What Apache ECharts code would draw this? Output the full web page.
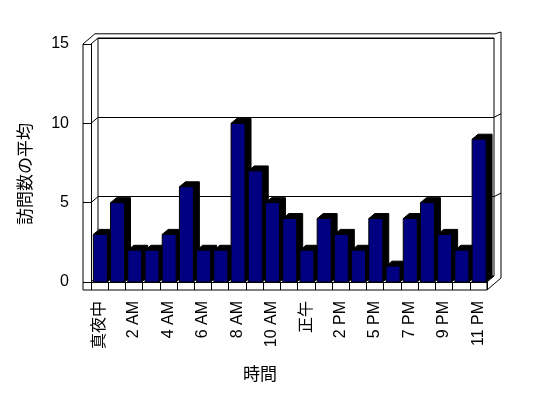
<!DOCTYPE html>
<html>
<head>
<meta charset="utf-8">
<script src="https://cdn.jsdelivr.net/npm/echarts@6/dist/echarts.min.js"></script>
<style>
  html, body { margin: 0; padding: 0; background: #fff; }
  #chart { width: 548px; height: 398px; }
</style>
</head>
<body>
<div id="chart"></div>
<script>
const hours = [
  "真夜中", "1 AM", "2 AM", "3 AM", "4 AM", "5 AM", "6 AM", "7 AM", "8 AM", "9 AM", "10 AM", "11 AM",
  "正午", "1 PM", "2 PM", "4 PM", "5 PM", "6 PM", "7 PM", "8 PM", "9 PM", "10 PM", "11 PM"
];
const visits = [3, 5, 2, 2, 3, 6, 2, 2, 10, 7, 5, 4, 2, 4, 3, 2, 4, 1, 4, 5, 3, 2, 9];
const yMin = 0;
const yMax = 15;
const yStep = 5;
const yTitle = "訪問数の平均";
const xTitle = "時間";

const FONT = "'Liberation Sans', 'Noto Sans CJK JP', sans-serif";
const DX = 7, DY = -6;      // depth of the box
const BX = 6, BY = -5;      // depth of a bar
const WALL = 8;

const myChart = echarts.init(document.getElementById("chart"));

function line(a, b) {
  return {
    type: "line",
    shape: { x1: a[0], y1: a[1], x2: b[0], y2: b[1] },
    style: { stroke: "#000", lineWidth: 1 }
  };
}

// box outline, placed from the front grid's own coordinates
function renderFrame(params, api) {
  const band = api.size([1, 0])[0];
  const xL = api.coord([0, yMin])[0] - band / 2;
  const xR = api.coord([hours.length - 1, yMin])[0] + band / 2;
  const y0 = api.coord([0, yMin])[1];
  const yT = api.coord([0, yMax])[1];
  const kids = [];
  // left wall
  kids.push(line([xL - WALL, yT], [xL - WALL, y0 + WALL]));
  kids.push(line([xL - WALL, yT], [xL - WALL + 1.7 * DX, yT + 1.7 * DY]));
  kids.push(line([xL - WALL + 1.7 * DX, yT + 1.7 * DY], [xR + DX + 1, yT + 1.7 * DY]));
  kids.push(line([xR + DX + 1, yT + 1.7 * DY], [xR + 2 * DX, yT + 2 * DY]));
  for (let v = yMin; v <= yMax; v += yStep) {
    const y = api.coord([0, v])[1];
    kids.push(line([xL, y], [xL + DX, y + DY]));
    if (v > yMin && v < yMax) {
      kids.push(line([xR + DX, y + DY], [xR + 2 * DX, y + 1.6 * DY]));
    }
  }
  // right wall
  kids.push(line([xR + 2 * DX, yT + 2 * DY], [xR + 2 * DX, y0 + WALL + 2 * DY]));
  // floor
  kids.push(line([xL - WALL, y0 + WALL], [xR, y0 + WALL]));
  kids.push(line([xR, y0], [xR, y0 + WALL]));
  kids.push(line([xR, y0], [xR + DX, y0 + DY]));
  kids.push(line([xR, y0 + WALL], [xR + 2 * DX, y0 + WALL + 2 * DY]));
  return { type: "group", children: kids };
}

function renderBar(params, api) {
  const i = api.value(0);
  const v = api.value(1);
  const top = api.coord([i, v]);
  const base = api.coord([i, 0]);
  const w = api.size([1, 0])[0] * 0.81;
  const x0 = top[0] - w / 2 + 0.7;
  const x1 = x0 + w;
  const yt = top[1];
  const yb = base[1];
  return {
    type: "group",
    children: [
      {
        type: "polygon",
        shape: {
          points: [
            [x0, yt], [x0 + BX, yt + BY], [x1 + BX, yt + BY],
            [x1 + BX, yb + BY], [x1, yb], [x1, yt]
          ]
        },
        style: { fill: "#000", stroke: "#000", lineWidth: 1 }
      },
      {
        type: "rect",
        shape: { x: x0, y: yt, width: w, height: yb - yt },
        style: { fill: "#000080", stroke: "#000", lineWidth: 1 }
      }
    ]
  };
}

const option = {
  backgroundColor: "#fff",
  animation: false,
  textStyle: { fontFamily: FONT, color: "#000" },
  grid: [
    // front plane
    { left: 91, right: 61, top: 44, bottom: 116 },
    // back wall
    {
      left: 98, right: 54, top: 38, bottom: 122,
      show: true, backgroundColor: "#fff", borderColor: "#000", borderWidth: 1
    }
  ],
  xAxis: [
    {
      gridIndex: 0,
      type: "category",
      data: hours,
      boundaryGap: true,
      axisLine: { show: true, lineStyle: { color: "#000", width: 1 } },
      axisTick: { show: true, interval: 0, length: 8, lineStyle: { color: "#000" } },
      axisLabel: {
        interval: 1,
        rotate: 90,
        margin: 19,
        fontSize: 16,
        fontFamily: FONT,
        color: "#000"
      },
      splitLine: { show: false }
    },
    {
      gridIndex: 1,
      type: "category",
      data: hours,
      show: false
    }
  ],
  yAxis: [
    {
      gridIndex: 0,
      type: "value",
      min: yMin,
      max: yMax,
      interval: yStep,
      axisLine: { show: true, lineStyle: { color: "#000", width: 1 } },
      axisTick: { show: true, length: 8, lineStyle: { color: "#000" } },
      axisLabel: { margin: 22, fontSize: 16, fontFamily: FONT, color: "#000" },
      splitLine: { show: false }
    },
    {
      gridIndex: 1,
      type: "value",
      min: yMin,
      max: yMax,
      interval: yStep,
      axisLine: { show: false },
      axisTick: { show: false },
      axisLabel: { show: false },
      splitLine: { show: true, lineStyle: { color: "#000", width: 1 } }
    }
  ],
  graphic: [
    {
      type: "text",
      x: 26,
      y: 174,
      rotation: Math.PI / 2,
      style: {
        text: yTitle,
        font: "17px " + FONT,
        fill: "#000",
        align: "center",
        verticalAlign: "middle"
      }
    },
    {
      type: "text",
      x: 260,
      y: 375,
      style: {
        text: xTitle,
        font: "17px " + FONT,
        fill: "#000",
        align: "center",
        verticalAlign: "middle"
      }
    }
  ],
  series: [
    {
      name: "frame",
      type: "custom",
      xAxisIndex: 0,
      yAxisIndex: 0,
      z: 1,
      silent: true,
      renderItem: renderFrame,
      data: [[0, 0]]
    },
    {
      name: yTitle,
      type: "custom",
      xAxisIndex: 0,
      yAxisIndex: 0,
      z: 3,
      renderItem: renderBar,
      data: visits.map((v, i) => [i, v])
    }
  ]
};

option && myChart.setOption(option);
</script>
</body>
</html>
